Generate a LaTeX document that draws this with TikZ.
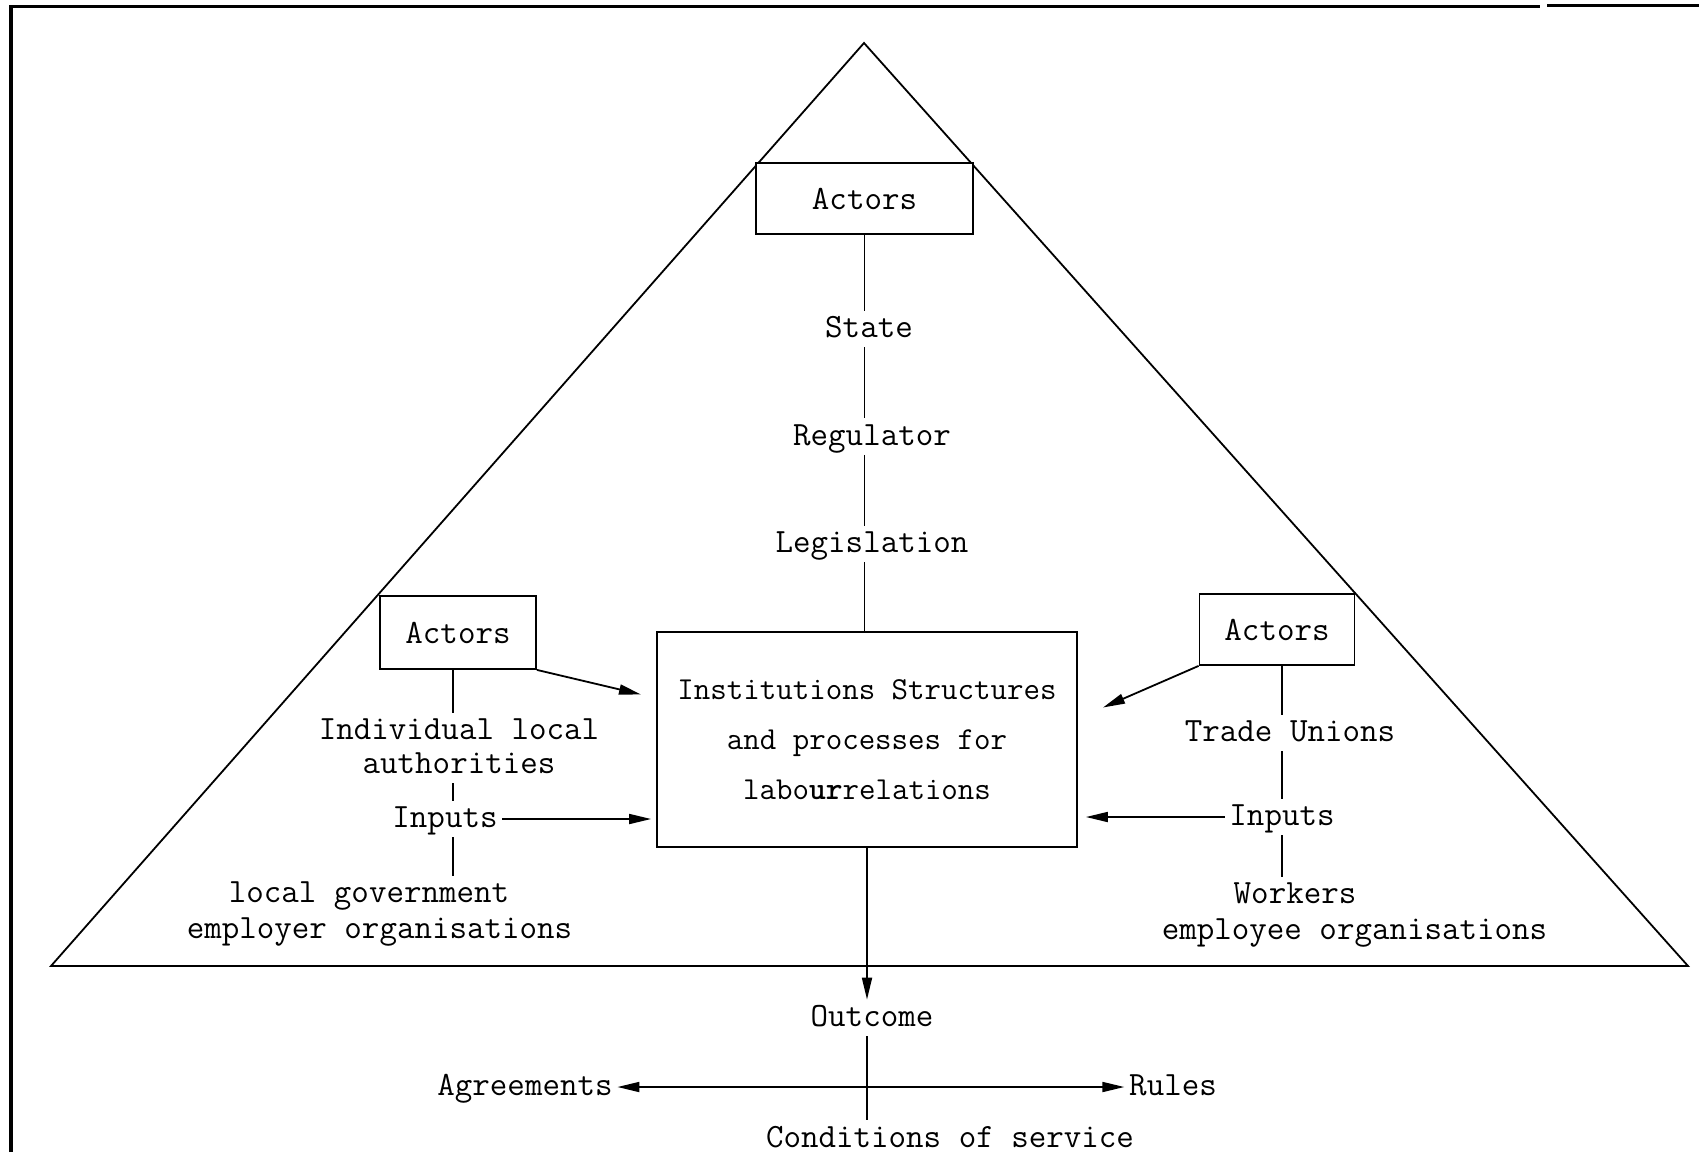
\documentclass[tikz,border=0pt]{standalone}
\usetikzlibrary{arrows.meta}
\begin{document}
\begin{tikzpicture}[x=1pt,y=-1pt,
  line width=1.8pt,
  lbl/.style={font=\ttfamily\fontsize{34}{35}\selectfont, inner sep=4pt,
              text height=22pt, text depth=5pt},
  actbox/.style={draw, fill=white, inner sep=0pt,
                 font=\ttfamily\fontsize{34}{35}\selectfont},
  corebox/.style={draw, fill=white, inner sep=0pt, align=center,
                  minimum width=420pt, minimum height=215pt,
                  font=\ttfamily\fontsize{32}{50}\selectfont},
  tip/.style={-{Triangle[length=22pt,width=10pt]}},
  tips/.style={{Triangle[length=22pt,width=10pt]}-{Triangle[length=22pt,width=10pt]}}
]
\useasboundingbox (0,0) rectangle (1699,1162);

% frame of the page
\draw[line width=3.5pt] (11,1152) -- (11,5);
\draw[line width=3pt] (9,6) -- (1540,6);
\draw[line width=3pt] (1547,5) -- (1699,5);

% the triangle
\draw (864,43) -- (51,966) -- (1688,966) -- cycle;

% actor boxes
\node[actbox, minimum width=217pt, minimum height=71pt] (topact) at (864.5,198.5) {Actors};
\node[actbox, minimum width=156pt, minimum height=73pt] (lact) at (458,632.5) {Actors};
\node[actbox, minimum width=155pt, minimum height=71pt] (ract) at (1277,629.5) {Actors};

% central box
\node[corebox] (core) at (867,739.5)
  {Institutions Structures\\and processes for\\labo{\bfseries ur}relations};

% state column
\node[lbl] (state) at (869,329) {State};
\node[lbl] (reg) at (872,436.5) {Regulator};
\node[lbl] (legis) at (872,544) {Legislation};

% employer column
\coordinate (lsp) at (453,669);
\node[lbl] (indiv1) at (459,731) {Individual local};
\node[lbl] (indiv2) at (459,765) {authorities};
\node[lbl] (linp) at (445,819) {Inputs};
\node[lbl] (lgov1) at (369,894) {local government};
\node[lbl] (lgov2) at (379.5,929.5) {employer organisations};

% employee column
\coordinate (rsp) at (1282,665);
\node[lbl] (tu) at (1290,733) {Trade Unions};
\node[lbl] (rinp) at (1282,817) {Inputs};
\node[lbl] (work1) at (1295,895) {Workers};
\node[lbl] (work2) at (1354.5,930.5) {employee organisations};

% outcome
\node[lbl] (outc) at (872,1018) {Outcome};
\node[lbl] (agr) at (525,1087) {Agreements};
\node[lbl] (rules) at (1173,1087) {Rules};
\node[lbl] (cond) at (950,1138.6) {Conditions of service};

% free ends of the slanted arrows
\coordinate (lhit) at (641,694.5);
\coordinate (rhit) at (1103,707.5);

% state spine
\draw (topact.south) -- (topact.south |- state.north);
\draw (topact.south |- state.south) -- (topact.south |- reg.north);
\draw (topact.south |- reg.south) -- (topact.south |- legis.north);
\draw (topact.south |- legis.south) -- (topact.south |- core.north);

% employer spine
\draw (lsp) -- (lsp |- indiv1.north);
\draw (lsp |- indiv2.south) -- (lsp |- linp.north);
\draw (lsp |- linp.south) -- (lsp |- lgov1.north);

% employee spine
\draw (rsp) -- (rsp |- tu.north);
\draw (rsp |- tu.south) -- (rsp |- rinp.north);
\draw (rsp |- rinp.south) -- (rsp |- work1.north);

% arrows into the central box
\draw[tip] (lact.south east) -- (lhit);
\draw[tip] (ract.south west) -- (rhit);
\draw[tip, shorten >=5pt] (linp.east) -- (core.west |- linp);
\draw[tip, shorten >=8pt] (rinp.west) -- (core.east |- rinp);

% outcome arrows
\draw[tip] (core.south) -- (core.south |- outc.north);
\draw (core.south |- outc.south) -- (core.south |- cond.north);
\draw[tips] (agr.east) -- (rules.west);
\end{tikzpicture}
\end{document}
